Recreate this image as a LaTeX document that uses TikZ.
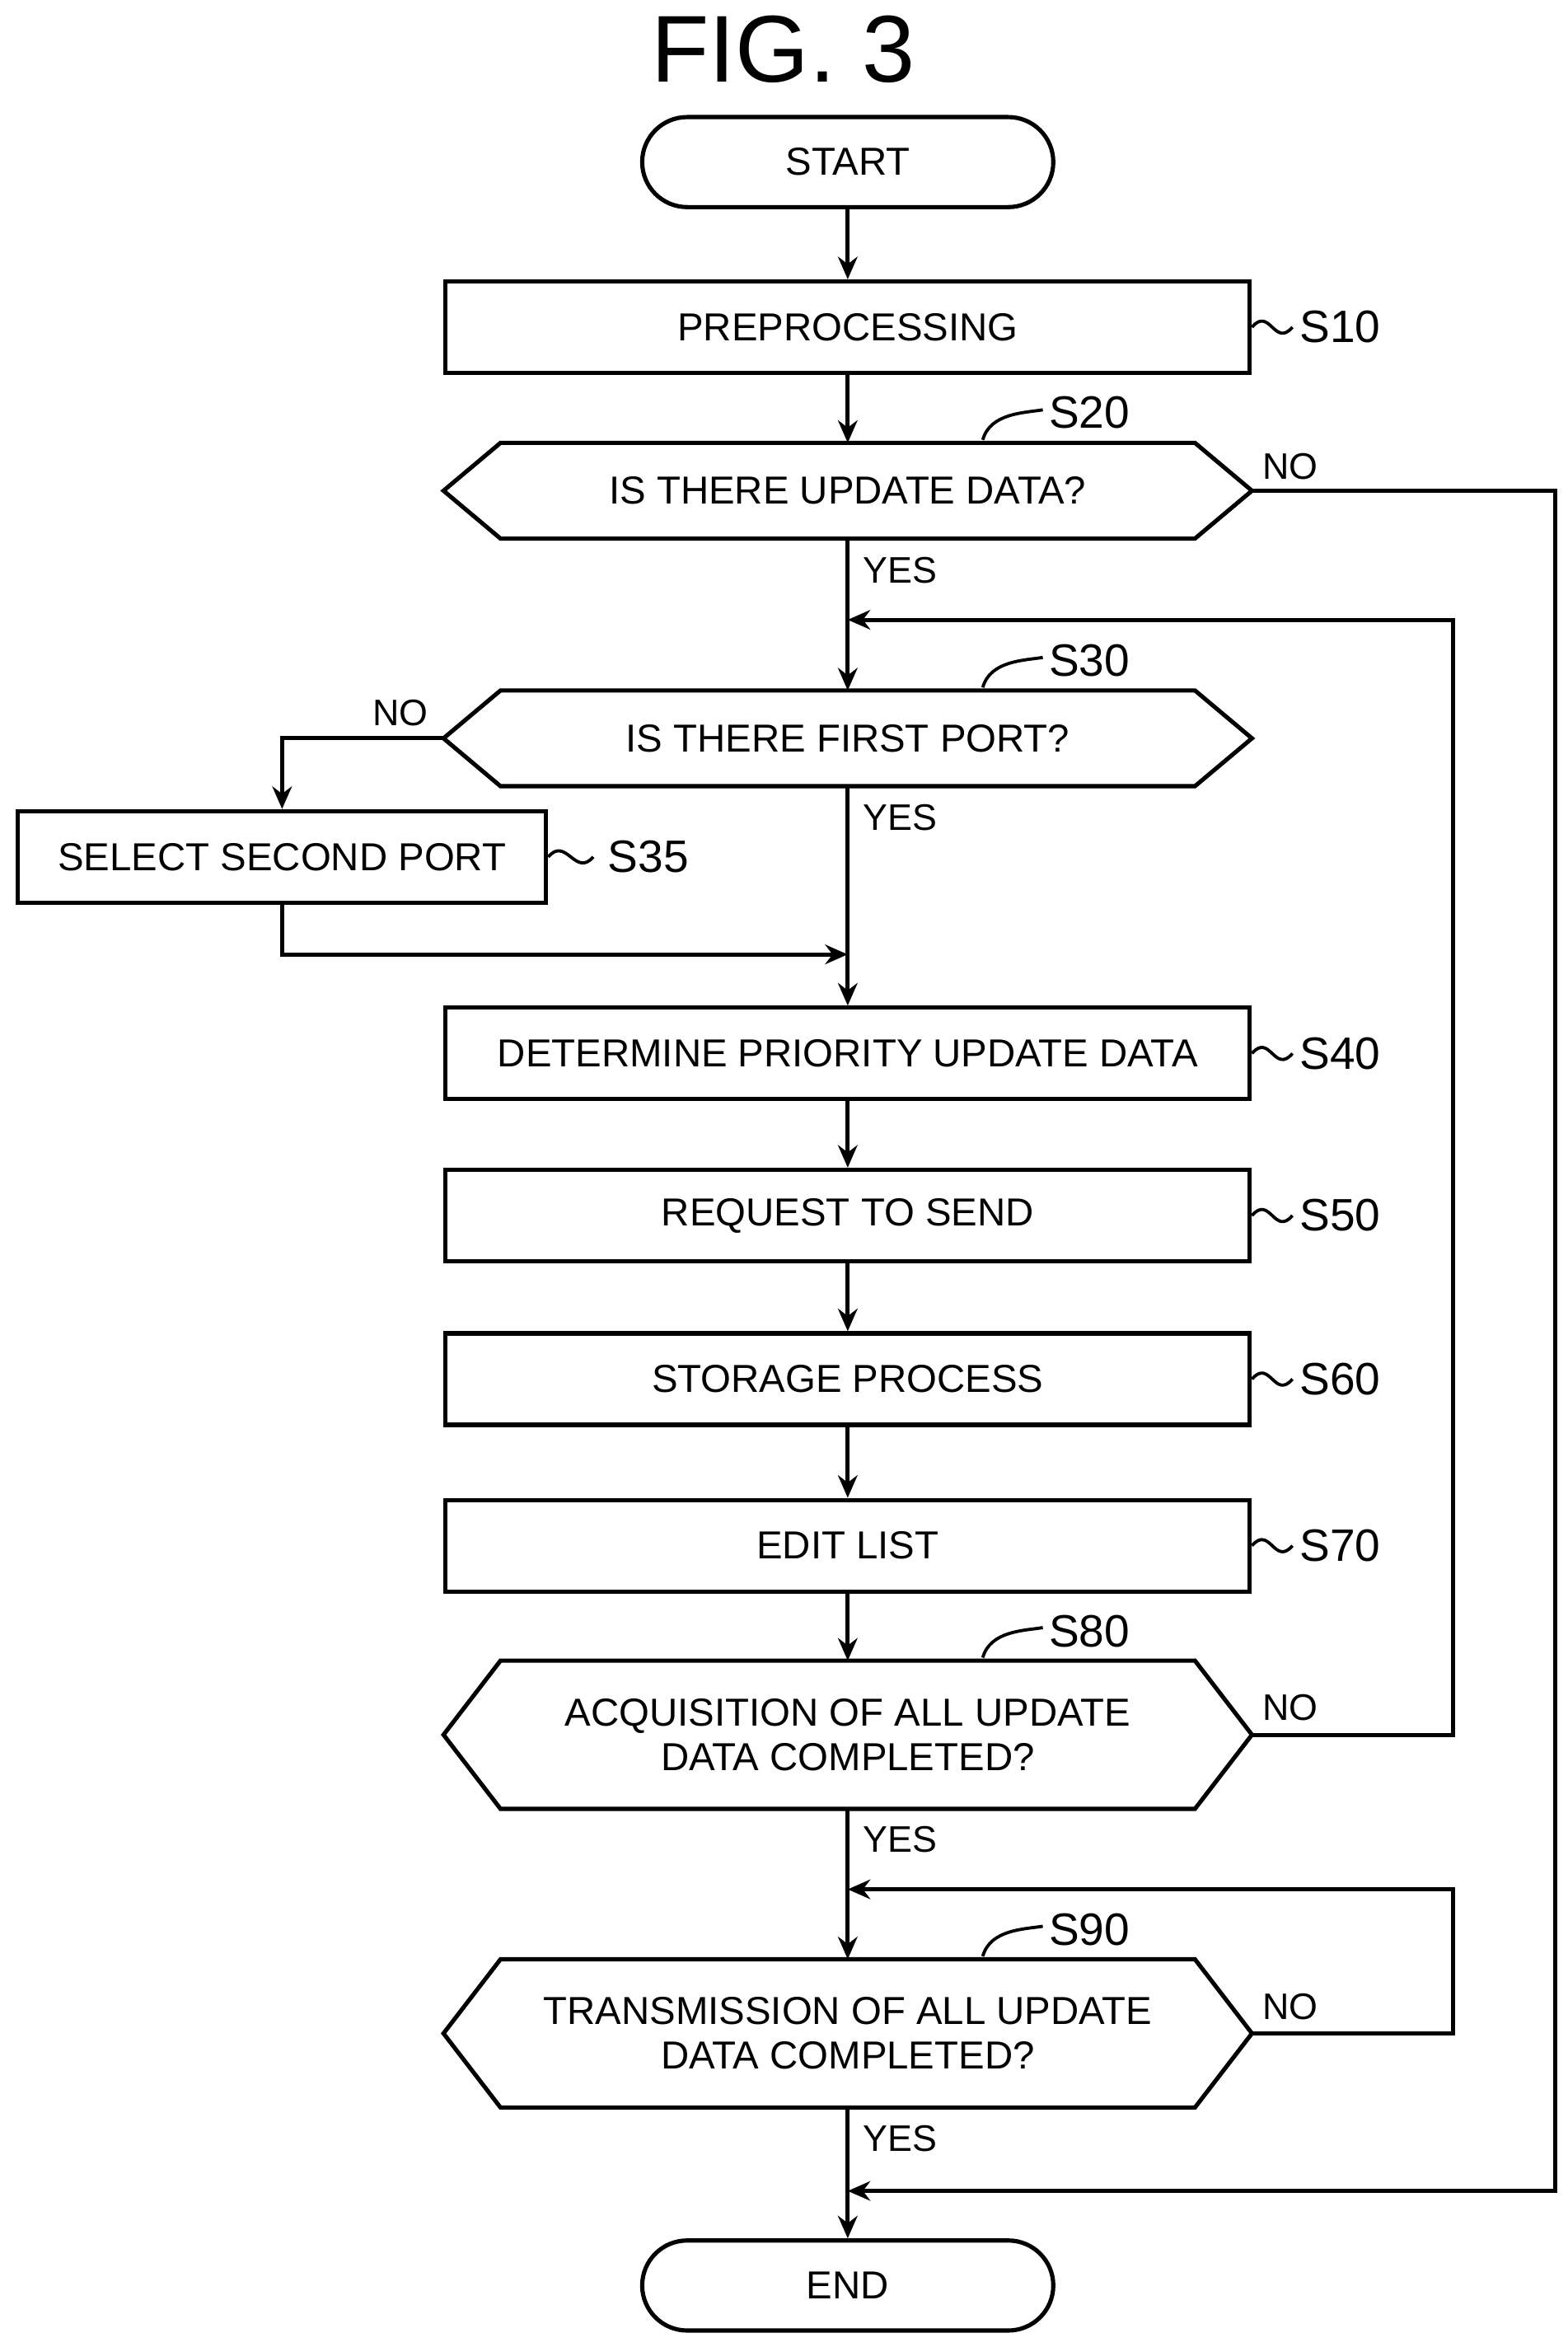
\documentclass[tikz,border=0pt]{standalone}
\usepackage{fontspec}
\setmainfont{Liberation Sans}
\usetikzlibrary{arrows.meta,calc}
\newcommand{\hexframe}[1]{%
  \draw[line width=0.8pt] (#1.west) -- ($(#1.north west)+(0.38,0)$) -- ($(#1.north east)+(-0.38,0)$)
    -- (#1.east) -- ($(#1.south east)+(-0.38,0)$) -- ($(#1.south west)+(0.38,0)$) -- cycle;}
\begin{document}
\begin{tikzpicture}
    [
    box/.style={draw, line width=0.8pt, rectangle, minimum width=5.36cm, minimum height=0.61cm, inner sep=0pt, align=center, font=\fontsize{7.4}{8.4}\selectfont},
    hex/.style={box, draw=none},
    term/.style={draw, line width=0.8pt, rounded corners=0.3cm, minimum width=2.74cm, minimum height=0.60cm, inner sep=0pt, font=\fontsize{7.4}{8.4}\selectfont},
    arrow/.style={-{Stealth[length=1.5mm,width=1.3mm]}, line width=0.8pt},
    steplabel/.style={font=\fontsize{8.6}{9}\selectfont, inner sep=1pt},
    yn/.style={font=\fontsize{7}{8}\selectfont, inner sep=1pt}
    ]
    \useasboundingbox (0,0) rectangle (10.45,-15.64);

% Title
    \node[font=\fontsize{18}{20}\selectfont] (title) at (5.22,-0.33) {FIG. 3};

% Main column
    \node[term] (start) at (5.65,-1.08) {START};
    \node[box] (s10) at (5.65,-2.18) {PREPROCESSING};
    \node[hex] (s20) at (5.65,-3.27) {IS THERE UPDATE DATA?};
    \node[hex] (s30) at (5.65,-4.92) {IS THERE FIRST PORT?};
    \node[box, minimum width=3.52cm] (s35) at (1.88,-5.71) {SELECT SECOND PORT};
    \node[box] (s40) at (5.65,-7.02) {DETERMINE PRIORITY UPDATE DATA};
    \node[box] (s50) at (5.65,-8.10) {REQUEST TO SEND};
    \node[box] (s60) at (5.65,-9.19) {STORAGE PROCESS};
    \node[box] (s70) at (5.65,-10.30) {EDIT LIST};
    \node[hex, minimum height=0.96cm] (s80) at (5.65,-11.56) {ACQUISITION OF ALL UPDATE\\DATA COMPLETED?};
    \node[hex, minimum height=0.96cm] (s90) at (5.65,-13.55) {TRANSMISSION OF ALL UPDATE\\DATA COMPLETED?};
    \node[term] (end) at (5.65,-15.23) {END};
    \hexframe{s20}
    \hexframe{s30}
    \hexframe{s80}
    \hexframe{s90}

% Junctions
    \coordinate (j30) at (5.65,-4.13);
    \coordinate (j40) at (5.65,-6.36);
    \coordinate (j90) at (5.65,-12.59);
    \coordinate (jend) at (5.65,-14.60);

% Step labels
    \node[steplabel, anchor=west] (l10) at (8.62,-2.18) {S10};
    \node[steplabel, anchor=west] (l35) at (4.01,-5.71) {S35};
    \node[steplabel, anchor=west] (l40) at (8.62,-7.02) {S40};
    \node[steplabel, anchor=west] (l50) at (8.62,-8.10) {S50};
    \node[steplabel, anchor=west] (l60) at (8.62,-9.19) {S60};
    \node[steplabel, anchor=west] (l70) at (8.62,-10.30) {S70};
    \node[steplabel, anchor=west] (l20) at (6.95,-2.75) {S20};
    \node[steplabel, anchor=west] (l30) at (6.95,-4.40) {S30};
    \node[steplabel, anchor=west] (l80) at (6.95,-10.87) {S80};
    \node[steplabel, anchor=west] (l90) at (6.95,-12.86) {S90};
    \foreach \n in {s10,s40,s50,s60,s70}
      \draw[line width=0.6pt] (\n.east) .. controls +(0.12,0.14) and +(-0.12,-0.14) .. ++(0.27,0);
    \draw[line width=0.6pt] (s35.east) .. controls +(0.12,0.14) and +(-0.12,-0.14) .. ++(0.30,0);
    \foreach \n in {s20,s30,s80,s90}
      \draw[line width=0.6pt] ($(\n.north)+(0.90,0.02)$) .. controls +(0.05,0.18) and +(-0.12,-0.02) .. ++(0.40,0.20);

% Arrows
    \draw[arrow] (start) -- (s10);
    \draw[arrow] (s10) -- (s20);
    \draw[arrow] (s20) -- (s30);
    \draw[arrow] (s30) -- (s40);
    \draw[arrow] (s30.west) -| (s35.north);
    \draw[arrow] (s35.south) |- (j40);
    \draw[arrow] (s40) -- (s50);
    \draw[arrow] (s50) -- (s60);
    \draw[arrow] (s60) -- (s70);
    \draw[arrow] (s70) -- (s80);
    \draw[arrow] (s80) -- (s90);
    \draw[arrow] (s90) -- (end);
    \draw[arrow] (s20.east) -- ++(2.02,0) |- (jend);
    \draw[arrow] (s80.east) -- ++(1.34,0) |- (j30);
    \draw[arrow] (s90.east) -- ++(1.34,0) |- (j90);

% Yes / No
    \node[yn] (y20) at (6.00,-3.80) {YES};
    \node[yn] (y30) at (6.00,-5.45) {YES};
    \node[yn] (y80) at (6.00,-12.26) {YES};
    \node[yn] (y90) at (6.00,-14.25) {YES};
    \node[yn] (n20) at (8.60,-3.11) {NO};
    \node[yn] (n30) at (2.67,-4.75) {NO};
    \node[yn] (n80) at (8.60,-11.38) {NO};
    \node[yn] (n90) at (8.60,-13.37) {NO};

\end{tikzpicture}
\end{document}
